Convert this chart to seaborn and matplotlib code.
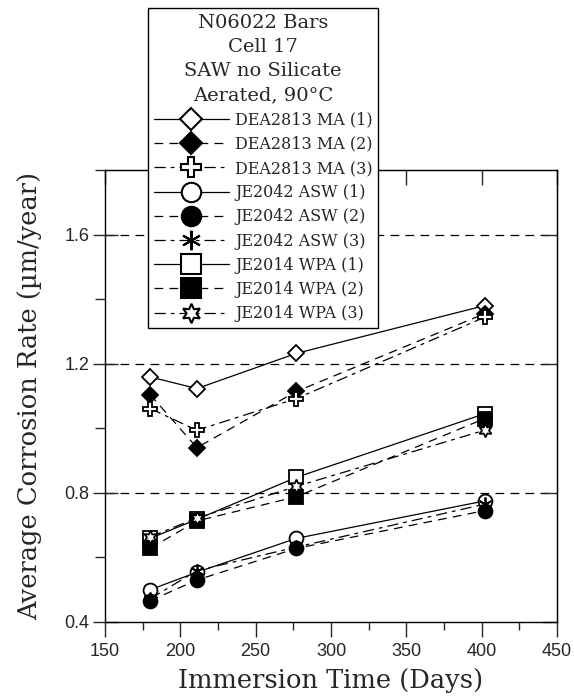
import matplotlib
matplotlib.use("Agg")
import matplotlib.pyplot as plt
from matplotlib.lines import Line2D
from matplotlib.ticker import MultipleLocator, NullFormatter
import seaborn as sns
import pandas as pd

# Immersion times (days) and average corrosion rates (um/year)
days = [180, 211, 277, 402]
series_names = [
    "DEA2813 MA (1)", "DEA2813 MA (2)", "DEA2813 MA (3)",
    "JE2042 ASW (1)", "JE2042 ASW (2)", "JE2042 ASW (3)",
    "JE2014 WPA (1)", "JE2014 WPA (2)", "JE2014 WPA (3)",
]
dea_ma_1 = [1.159, 1.123, 1.232, 1.380]
dea_ma_2 = [1.104, 0.940, 1.114, 1.355]
dea_ma_3 = [1.061, 0.994, 1.092, 1.344]
je2042_asw_1 = [0.500, 0.554, 0.659, 0.775]
je2042_asw_2 = [0.466, 0.530, 0.628, 0.745]
je2042_asw_3 = [0.472, 0.559, 0.632, 0.765]
je2014_wpa_1 = [0.659, 0.718, 0.848, 1.045]
je2014_wpa_2 = [0.628, 0.713, 0.788, 1.030]
je2014_wpa_3 = [0.664, 0.722, 0.820, 0.994]
rates = [dea_ma_1, dea_ma_2, dea_ma_3,
         je2042_asw_1, je2042_asw_2, je2042_asw_3,
         je2014_wpa_1, je2014_wpa_2, je2014_wpa_3]
legend_title = "N06022 Bars\nCell 17\nSAW no Silicate\nAerated, 90°C"

# marker shape, marker size, face colour, line style for each specimen
styles = [
    ("D", 8.0, "white", "-"),
    ("D", 8.0, "black", (0, (7, 5))),
    ("P", 10.5, "white", (0, (9, 4, 3, 4))),
    ("o", 10.0, "white", "-"),
    ("o", 10.0, "black", (0, (7, 5))),
    ((6, 2, 0), 10.0, "black", (0, (9, 4, 3, 4))),
    ("s", 10.0, "white", "-"),
    ("s", 10.0, "black", (0, (7, 5))),
    ((6, 1, 0), 10.0, "white", (0, (9, 4, 3, 4))),
]

df = pd.concat(
    [pd.DataFrame({"days": days, "rate": r, "series": n}) for n, r in zip(series_names, rates)],
    ignore_index=True,
)

sns.set_style("ticks")
serif = ["DejaVu Serif"]
plt.rcParams["font.family"] = ["Liberation Sans", "DejaVu Sans"]

fig = plt.figure(figsize=(5.74, 6.96), dpi=100)
ax = fig.add_axes([105 / 574, 1 - 622 / 696, 452 / 574, 452 / 696])

handles = []
for name, (mk, ms, fc, ls) in zip(series_names, styles):
    sub = df[df["series"] == name]
    sns.lineplot(data=sub, x="days", y="rate", ax=ax, color="black",
                 linestyle=ls, linewidth=0.9, marker=mk, markersize=ms,
                 markerfacecolor=fc, markeredgecolor="black", markeredgewidth=1.3,
                 legend=False, estimator=None, sort=True)
    handles.append(Line2D([], [], color="black", linestyle=ls, linewidth=0.9,
                          marker=mk, markersize=ms * 1.4, markerfacecolor=fc,
                          markeredgecolor="black", markeredgewidth=1.5, label=name))

ax.set_xlim(150, 450)
ax.set_ylim(0.4, 1.8)
ax.xaxis.set_major_locator(MultipleLocator(50))
ax.xaxis.set_minor_locator(MultipleLocator(25))
ax.yaxis.set_minor_locator(MultipleLocator(0.2))
ax.set_yticks([0.4, 0.8, 1.2, 1.6])
ax.set_yticklabels(["0.4", "0.8", "1.2", "1.6"])

for s in ax.spines.values():
    s.set_linewidth(1.0)
    s.set_color("black")

ax.tick_params(axis="x", which="major", direction="out", length=11, width=1, labelsize=13, pad=4)
ax.tick_params(axis="x", which="minor", direction="out", length=6, width=1)
ax.tick_params(axis="y", which="major", direction="inout", length=18, width=1, labelsize=13, pad=2)
ax.tick_params(axis="y", which="minor", direction="out", length=7, width=1)

# inward ticks on the top and right edges
top = ax.secondary_xaxis("top")
top.xaxis.set_major_locator(MultipleLocator(50))
top.tick_params(direction="in", length=11, width=1)
top.xaxis.set_major_formatter(NullFormatter())
right = ax.secondary_yaxis("right")
right.yaxis.set_major_locator(MultipleLocator(0.4))
right.tick_params(direction="in", length=11, width=1)
right.yaxis.set_major_formatter(NullFormatter())

for yv in [0.8, 1.2, 1.6]:
    ax.axhline(yv, color="black", linewidth=0.9, linestyle=(0, (7, 5)), zorder=0)

ax.set_xlabel("Immersion Time (Days)", fontsize=18.5, family=serif, labelpad=6)
ax.set_ylabel("Average Corrosion Rate (µm/year)", fontsize=18.5, family=serif, labelpad=16)

leg = fig.legend(handles=handles, title=legend_title, loc="upper left",
                 bbox_to_anchor=(148 / 574, 1 - 8 / 696), frameon=True, fancybox=False,
                 edgecolor="black", framealpha=1, handlelength=4.7, handletextpad=0.4,
                 labelspacing=0.45, borderpad=0.35, borderaxespad=0,
                 prop={"family": serif, "size": 11.5})
leg.get_title().set_fontsize(14)
leg.get_title().set_family(serif)
leg.get_title().set_multialignment("center")
leg.get_title().set_linespacing(1.45)
leg.get_frame().set_linewidth(1.0)

fig.savefig("out.png", dpi=100)
